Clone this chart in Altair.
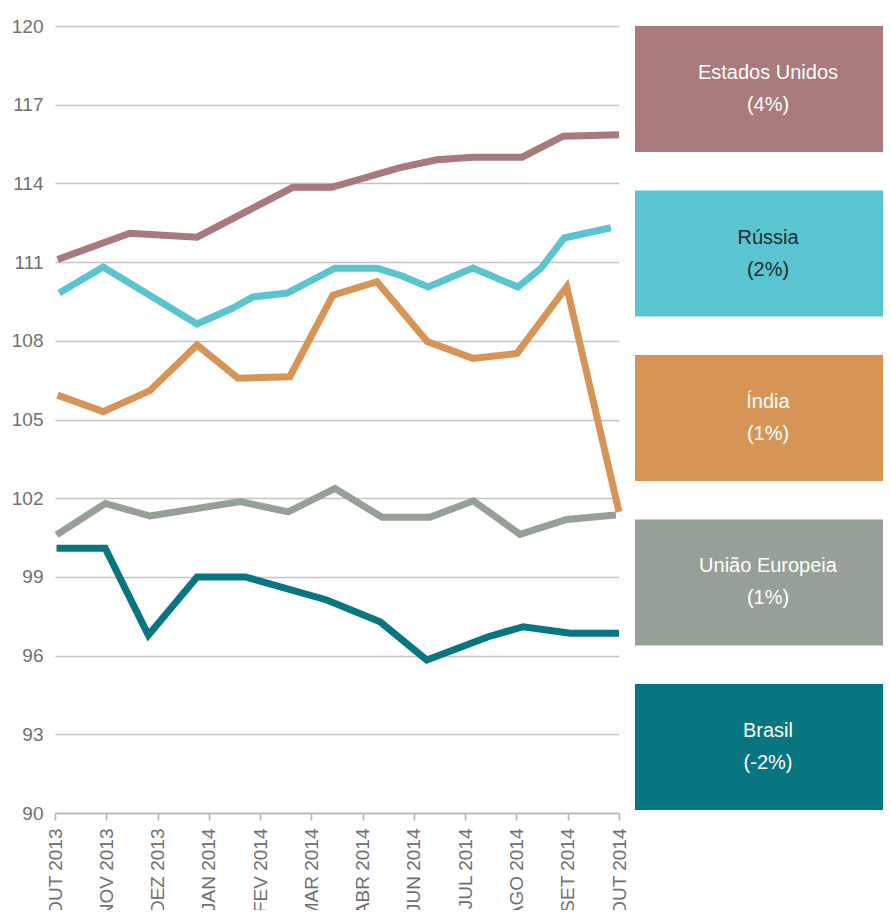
import altair as alt
import pandas as pd

# Tick labels (x) and y ticks
meses = ["OUT 2013", "NOV 2013", "DEZ 2013", "JAN 2014", "FEV 2014", "MAR 2014",
         "ABR 2014", "JUN 2014", "JUL 2014", "AGO 2014", "SET 2014", "OUT 2014"]
y_ticks = list(range(90, 121, 3))

# Legend / series
paises = ["Estados Unidos", "Rússia", "Índia", "União Europeia", "Brasil"]
variacao = ["(4%)", "(2%)", "(1%)", "(1%)", "(-2%)"]
cores = ["#a87a7b", "#5bc4d1", "#d69557", "#96a097", "#077680"]

# Series values (x = position along the month axis)
eua_x = [0.05, 1.46, 2.77, 4.64, 5.40, 6.73, 7.45, 8.16, 9.11, 9.91, 11.0]
eua_y = [111.1, 112.1, 111.95, 113.85, 113.85, 114.6, 114.9, 115.0, 115.0, 115.8, 115.85]

russia_x = [0.08, 0.94, 2.77, 3.47, 3.86, 4.53, 5.46, 6.28, 6.73, 7.28, 8.15, 9.03, 9.48, 9.93, 10.84]
russia_y = [109.82, 110.81, 108.64, 109.25, 109.67, 109.82, 110.77, 110.77, 110.5, 110.05,
            110.77, 110.05, 110.77, 111.92, 112.31]

india_x = [0.05, 0.94, 1.85, 2.77, 3.57, 4.58, 5.42, 6.28, 7.26, 8.15, 9.01, 9.98, 11.0]
india_y = [105.93, 105.3, 106.1, 107.84, 106.57, 106.63, 109.74, 110.25, 107.97, 107.33,
           107.52, 110.06, 101.48]

ue_x = [0.03, 0.98, 1.85, 3.61, 4.55, 5.46, 6.38, 7.31, 8.16, 9.07, 9.98, 10.94]
ue_y = [100.6, 101.8, 101.32, 101.87, 101.48, 102.37, 101.27, 101.27, 101.9, 100.62, 101.19, 101.36]

brasil_x = [0.03, 0.98, 1.82, 2.77, 3.71, 5.30, 6.34, 7.25, 8.45, 9.13, 10.05, 11.0]
brasil_y = [100.09, 100.09, 96.78, 99.0, 99.0, 98.12, 97.29, 95.83, 96.72, 97.1, 96.85, 96.85]

rows = []
for nome, xs, ys in [("Estados Unidos", eua_x, eua_y), ("Rússia", russia_x, russia_y),
                     ("União Europeia", ue_x, ue_y), ("Brasil", brasil_x, brasil_y),
                     ("Índia", india_x, india_y)]:
    rows += [{"pais": nome, "pos": x, "valor": y} for x, y in zip(xs, ys)]
df = pd.DataFrame(rows)

leg = pd.DataFrame({"pais": paises, "pct": variacao})

FONT = "Liberation Sans"
label_expr = "[" + ",".join("'%s'" % m for m in meses) + "][datum.value]"

color_scale = alt.Scale(domain=paises, range=cores)

lines = alt.Chart(df).mark_line(strokeWidth=7, strokeJoin="miter", strokeCap="butt").encode(
    x=alt.X("pos:Q", scale=alt.Scale(domain=[0, 11], nice=False, zero=False),
            axis=alt.Axis(values=list(range(12)), labelExpr=label_expr, title=None, grid=False,
                          domain=True, domainColor="#b5b5b5", domainWidth=1.5,
                          ticks=True, tickSize=7, tickColor="#b5b5b5", tickWidth=1.5,
                          labelAngle=270, labelPadding=8, labelFontSize=19,
                          labelColor="#707070", labelFont=FONT, labelOverlap=False)),
    y=alt.Y("valor:Q", scale=alt.Scale(domain=[90, 120], nice=False, zero=False),
            axis=alt.Axis(values=y_ticks, title=None, grid=True, gridColor="#c4c4c4",
                          gridWidth=1.5, domain=False, ticks=False, labelPadding=12,
                          labelFontSize=19, labelColor="#707070", labelFont=FONT)),
    color=alt.Color("pais:N", scale=color_scale, legend=None),
)

hidden = alt.Axis(domain=False, ticks=False, labels=False, grid=False, title=None,
                  domainOpacity=0, gridOpacity=0, tickOpacity=0)
ysc = alt.Scale(domain=paises, range=[0, 784], paddingInner=0.234, paddingOuter=0)
yenc = alt.Y("pais:N", scale=ysc, axis=hidden, sort=paises)

rects = alt.Chart(leg).mark_rect().encode(
    y=yenc,
    x=alt.value(580), x2=alt.value(840),
    color=alt.Color("pais:N", scale=color_scale, legend=None),
)
txt_color = alt.condition(alt.datum.pais == "Rússia", alt.value("#1e2b2e"), alt.value("#ffffff"))
names = alt.Chart(leg).mark_text(dy=-16, fontSize=20, font=FONT).encode(
    y=yenc, x=alt.value(713), text="pais:N", color=txt_color)
pcts = alt.Chart(leg).mark_text(dy=16, fontSize=20, font=FONT).encode(
    y=yenc, x=alt.value(713), text="pct:N", color=txt_color)

boxes = alt.layer(rects, names, pcts)

chart = (
    alt.layer(lines, boxes)
    .resolve_scale(y="independent")
    .properties(
        width=564, height=787,
        autosize=alt.AutoSizeParams(type="none", contains="content"),
        padding={"left": 47, "top": 18, "right": 264, "bottom": 97},
    )
    .configure(font=FONT, background="white")
    .configure_view(stroke=None, strokeWidth=0, strokeOpacity=0)
    .configure_axis(domain=False)
    .configure_axisY(domain=False)
    .configure_axisLeft(domain=False)
    .configure_axisRight(domain=False)
    .configure_axisBand(domain=False, grid=False)
)

chart.save("out.html", embed_options={"renderer": "svg", "actions": False})
